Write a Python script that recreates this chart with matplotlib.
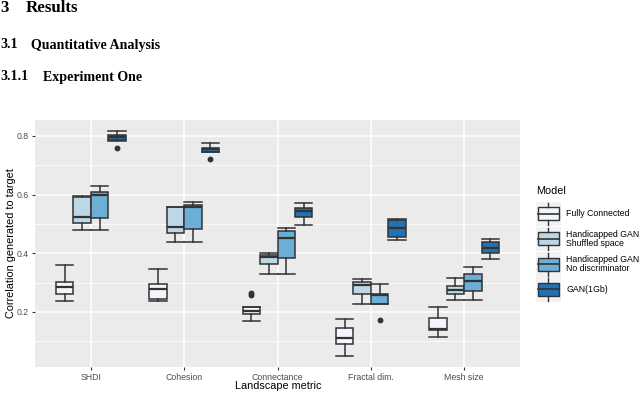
import matplotlib
matplotlib.use("Agg")
import matplotlib.pyplot as plt
from matplotlib.patches import Rectangle
from matplotlib.lines import Line2D

# ---------------- data ----------------
categories = ["SHDI", "Cohesion", "Connectance", "Fractal dim.", "Mesh size"]
models = ["Fully Connected", "Handicapped GAN\nShuffled space",
          "Handicapped GAN\nNo discriminator", "GAN(1Gb)"]
colors = ["#F2F5FB", "#BDD7E7", "#6BAED6", "#2171B5"]

# box statistics per model: (whislo, q1, med, q3, whishi) for each category
fc_stats = [(0.237, 0.262, 0.286, 0.301, 0.360),
            (0.237, 0.245, 0.278, 0.295, 0.347),
            (0.170, 0.193, 0.204, 0.218, 0.218),
            (0.051, 0.090, 0.112, 0.147, 0.175),
            (0.114, 0.137, 0.141, 0.178, 0.218)]
shuffled_stats = [(0.479, 0.504, 0.525, 0.591, 0.595),
                  (0.438, 0.470, 0.491, 0.557, 0.557),
                  (0.328, 0.362, 0.386, 0.394, 0.402),
                  (0.228, 0.260, 0.293, 0.303, 0.312),
                  (0.242, 0.260, 0.275, 0.289, 0.317)]
nodisc_stats = [(0.479, 0.519, 0.599, 0.610, 0.629),
                (0.438, 0.483, 0.559, 0.565, 0.576),
                (0.328, 0.385, 0.453, 0.477, 0.485),
                (0.227, 0.227, 0.257, 0.260, 0.295),
                (0.242, 0.272, 0.307, 0.329, 0.354)]
gan_stats = [(0.784, 0.786, 0.798, 0.805, 0.817),
             (0.744, 0.744, 0.755, 0.760, 0.775),
             (0.497, 0.525, 0.544, 0.556, 0.572),
             (0.446, 0.457, 0.486, 0.512, 0.517),
             (0.381, 0.402, 0.417, 0.438, 0.448)]
fc_outliers = [[], [], [0.263, 0.257], [], []]
shuffled_outliers = [[], [], [], [], []]
nodisc_outliers = [[], [], [], [0.172], []]
gan_outliers = [[0.759], [0.720], [], [], []]

all_stats = [fc_stats, shuffled_stats, nodisc_stats, gan_stats]
all_outliers = [fc_outliers, shuffled_outliers, nodisc_outliers, gan_outliers]

W, H = 640, 393
fig = plt.figure(figsize=(W / 100, H / 100), dpi=100)
fig.patch.set_facecolor("white")

def fx(px):
    return px / W

def fy(py):
    return 1 - py / H

# headings
serif = ["Liberation Serif", "DejaVu Serif"]
fig.text(fx(0), fy(8), "3", fontsize=12.2, fontweight="bold", family=serif, va="center")
fig.text(fx(26), fy(8), "Results", fontsize=12.2, fontweight="bold", family=serif, va="center")
fig.text(fx(0), fy(45), "3.1", fontsize=10.1, fontweight="bold", family=serif, va="center")
fig.text(fx(31), fy(45), "Quantitative Analysis", fontsize=10.1, fontweight="bold", family=serif, va="center")
fig.text(fx(0), fy(77), "3.1.1", fontsize=10.1, fontweight="bold", family=serif, va="center")
fig.text(fx(43), fy(77), "Experiment One", fontsize=10.1, fontweight="bold", family=serif, va="center")

sans = ["Liberation Sans", "DejaVu Sans"]

# main panel
L, R, T, B = 35, 520, 120, 366.7
ax = fig.add_axes([fx(L), fy(B), (R - L) / W, (B - T) / H])
ax.set_facecolor("#EBEBEB")
for s in ax.spines.values():
    s.set_visible(False)

ax.set_xlim(0.4, len(categories) + 0.6)
ax.set_ylim(0.0134, 0.8545)

# grid
for y in [0.1, 0.3, 0.5, 0.7]:
    ax.axhline(y, color="white", lw=0.55, zorder=0)
for y in [0.2, 0.4, 0.6, 0.8]:
    ax.axhline(y, color="white", lw=1.1, zorder=0)
for i in range(len(categories)):
    ax.axvline(i + 1, color="white", lw=1.1, zorder=0)

dodge = 0.75
bw = dodge / 4
offsets = [-1.5 * bw, -0.5 * bw, 0.5 * bw, 1.5 * bw]
edge = "#333333"

for m, (stats_m, outs_m) in enumerate(zip(all_stats, all_outliers)):
    bxp_stats = []
    for c, st in enumerate(stats_m):
        lo, q1, med, q3, hi = st
        bxp_stats.append(dict(whislo=lo, q1=q1, med=med, q3=q3, whishi=hi,
                              fliers=outs_m[c]))
    pos = [i + 1 + offsets[m] for i in range(len(categories))]
    ax.bxp(bxp_stats, positions=pos, widths=bw, patch_artist=True,
           showfliers=True, capwidths=bw,
           boxprops=dict(facecolor=colors[m], edgecolor=edge, linewidth=1.1),
           medianprops=dict(color=edge, linewidth=1.6),
           whiskerprops=dict(color=edge, linewidth=1.1),
           capprops=dict(color=edge, linewidth=1.1),
           flierprops=dict(marker="o", markerfacecolor=edge, markeredgecolor=edge,
                           markersize=3.2, linestyle="none"))

ax.set_xticks(range(1, len(categories) + 1))
ax.set_xticklabels(categories)
ax.set_yticks([0.2, 0.4, 0.6, 0.8])
ax.set_yticklabels(["0.2", "0.4", "0.6", "0.8"])
ax.tick_params(axis="both", length=2.5, width=0.8, color=edge, labelcolor="#4D4D4D",
               labelsize=6.3, pad=2)
for lab in ax.get_xticklabels() + ax.get_yticklabels():
    lab.set_family(sans)

# axis titles placed in pixel positions
fig.text(fx(278), fy(386), "Landscape metric", fontsize=7.8, family=sans,
         ha="center", va="center")
fig.text(fx(11), fy(243), "Correlation generated to target", fontsize=7.8,
         family=sans, ha="center", va="center", rotation=90)

# legend drawn in pixel coordinates
lg = fig.add_axes([0, 0, 1, 1])
lg.set_xlim(0, W)
lg.set_ylim(H, 0)
lg.axis("off")
lg.text(536, 190.5, "Model", fontsize=7.8, family=sans, va="center", ha="left")
key_tops = [201.5, 226.5, 252, 277]
key_h = 24.5
for k, (lab, col) in enumerate(zip(models, colors)):
    t = key_tops[k]
    lg.add_patch(Rectangle((536, t), 24.5, key_h, facecolor="#F2F2F2", edgecolor="none"))
    cx = 536 + 12.25
    cy = t + key_h / 2
    bx0, bx1 = 537.5, 559
    lg.add_patch(Rectangle((bx0, cy - 6.5), bx1 - bx0, 13, facecolor=col,
                           edgecolor=edge, linewidth=1.0))
    lg.add_line(Line2D([bx0, bx1], [cy, cy], color=edge, lw=1.2))
    lg.add_line(Line2D([cx, cx], [t + 1, cy - 6.5], color=edge, lw=1.0))
    lg.add_line(Line2D([cx, cx], [cy + 6.5, t + key_h - 1], color=edge, lw=1.0))
    lg.text(566.5, cy, lab, fontsize=6.3, family=sans, va="center", ha="left",
            linespacing=0.95)

fig.savefig("out.png", dpi=100)
